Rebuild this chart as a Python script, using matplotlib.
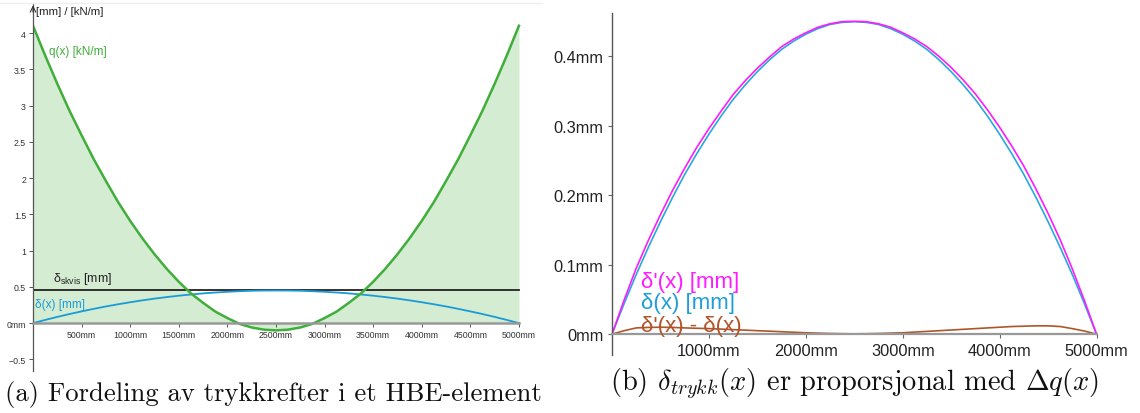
import numpy as np
import matplotlib
matplotlib.use("Agg")
import matplotlib.pyplot as plt
from matplotlib.lines import Line2D

plt.rcParams['font.family'] = ['Liberation Sans', 'DejaVu Sans']
plt.rcParams['mathtext.fontset'] = 'cm'

# --- data ---
# positions along the element [mm]
x_pos = [0, 125, 250, 375, 500, 625, 750, 875, 1000, 1125, 1250, 1375, 1500, 1625, 1750, 1875,
         2000, 2125, 2250, 2375, 2500, 2625, 2750, 2875, 3000, 3125, 3250, 3375, 3500, 3625,
         3750, 3875, 4000, 4125, 4250, 4375, 4500, 4625, 4750, 4875, 5000]
# left panel
q_vals = [4.10, 3.69, 3.30, 2.93, 2.59, 2.26, 1.96, 1.67, 1.41, 1.17, 0.95, 0.75, 0.57, 0.41,
          0.28, 0.16, 0.07, -0.01, -0.06, -0.09, -0.10, -0.09, -0.06, -0.01, 0.07, 0.16, 0.28,
          0.41, 0.57, 0.75, 0.95, 1.17, 1.41, 1.67, 1.96, 2.26, 2.59, 2.93, 3.30, 3.69, 4.10]
delta = [0, 0.044, 0.086, 0.125, 0.162, 0.197, 0.230, 0.260, 0.288, 0.314, 0.338, 0.359, 0.378,
         0.395, 0.410, 0.422, 0.432, 0.440, 0.446, 0.449, 0.450, 0.449, 0.446, 0.440, 0.432,
         0.422, 0.410, 0.395, 0.378, 0.359, 0.338, 0.314, 0.288, 0.260, 0.230, 0.197, 0.162,
         0.125, 0.086, 0.044, 0]
delta_skvis = 0.45

# right panel
delta_prime = [0, 0.049, 0.095, 0.135, 0.172, 0.207, 0.239, 0.269, 0.296, 0.321, 0.345, 0.365,
               0.383, 0.399, 0.414, 0.425, 0.434, 0.442, 0.447, 0.450, 0.4505, 0.450, 0.447,
               0.442, 0.434, 0.425, 0.414, 0.400, 0.384, 0.366, 0.346, 0.323, 0.298, 0.271,
               0.242, 0.209, 0.174, 0.136, 0.094, 0.0485, 0]
delta_diff = [0, 0.005, 0.009, 0.0097, 0.010, 0.0097, 0.009, 0.0085, 0.008, 0.0073, 0.0065,
              0.0058, 0.005, 0.0043, 0.0035, 0.0028, 0.002, 0.0015, 0.001, 0.0007, 0.0005,
              0.0007, 0.001, 0.0015, 0.002, 0.003, 0.004, 0.005, 0.006, 0.007, 0.008, 0.009,
              0.010, 0.011, 0.0115, 0.012, 0.012, 0.011, 0.008, 0.0045, 0]

left_yticks = [-0.5, 0, 0.5, 1, 1.5, 2, 2.5, 3, 3.5, 4]
left_ylabels = ['\u22120.5', '0mm', '0.5', '1', '1.5', '2', '2.5', '3', '3.5', '4']
left_xticks = [500, 1000, 1500, 2000, 2500, 3000, 3500, 4000, 4500, 5000]
right_yticks = [0, 0.1, 0.2, 0.3, 0.4]
right_xticks = [1000, 2000, 3000, 4000, 5000]

green = '#3fae3a'
blue = '#1a9bd7'
magenta = '#ff1aff'
brown = '#b0552a'

fig = plt.figure(figsize=(11.4, 4.14), dpi=100)

# thin frame line of the screenshot
fig.add_artist(Line2D([0, 542 / 1140], [1 - 4 / 414, 1 - 4 / 414], color='#eeeeee', lw=1))

# ---------- (a) ----------
ax1 = fig.add_axes([33 / 1140, 42 / 414, 502 / 1140, 367 / 414])
ax1.set_xlim(0, 5165)
ax1.set_ylim(-0.66, 4.40)
ax1.fill_between(x_pos, q_vals, 0, color='#d4ecd2', lw=0)
ax1.plot([0, 5000], [delta_skvis, delta_skvis], color='#222222', lw=1.3)
ax1.plot(x_pos, delta, color=blue, lw=1.3)
ax1.plot(x_pos, q_vals, color=green, lw=1.8)

for s in ['top', 'right']:
    ax1.spines[s].set_visible(False)
ax1.spines['left'].set_position(('data', 0))
ax1.spines['left'].set_color('#555555')
ax1.spines['left'].set_linewidth(0.9)
ax1.spines['bottom'].set_position(('data', 0))
ax1.spines['bottom'].set_bounds(0, 5000)
ax1.spines['bottom'].set_color('#999999')
ax1.spines['bottom'].set_linewidth(1.8)
ax1.set_yticks(left_yticks)
ax1.set_yticklabels(left_ylabels)
ax1.set_xticks(left_xticks)
ax1.set_xticklabels([f'{v}mm' for v in left_xticks])
ax1.tick_params(axis='both', labelsize=6.3, colors='#555555', labelcolor='#333333',
                length=3, width=0.7, pad=2)
ax1.annotate('', xy=(0, 4.42), xytext=(0, 4.25), annotation_clip=False,
             arrowprops=dict(arrowstyle='->', lw=0.8, color='#333333'))

ax1.text(31, 4.30, '[mm] / [kN/m]', fontsize=8.2, color='#222222', va='center')
ax1.text(165, 3.75, 'q(x) [kN/m]', fontsize=8.5, color=green, va='center')
ax1.text(206, 0.58, r'$\mathregular{\delta_{skvis}}$ [mm]', fontsize=9, color='#222222',
         va='baseline')
ax1.text(20, 0.26, '\u03b4(x) [mm]', fontsize=8.5, color=blue, va='center')

# ---------- (b) ----------
ax2 = fig.add_axes([612 / 1140, 58 / 414, 488 / 1140, 342 / 414])
ax2.set_xlim(0, 5036)
ax2.set_ylim(-0.030, 0.4625)
ax2.plot(x_pos, delta, color='#29a8e0', lw=1.2)
ax2.plot(x_pos, delta_prime, color=magenta, lw=1.2)
ax2.plot(x_pos, delta_diff, color=brown, lw=1.2)

for s in ['top', 'right']:
    ax2.spines[s].set_visible(False)
ax2.spines['left'].set_position(('data', 0))
ax2.spines['left'].set_color('#555555')
ax2.spines['left'].set_linewidth(1.0)
ax2.spines['bottom'].set_position(('data', 0))
ax2.spines['bottom'].set_bounds(0, 5000)
ax2.spines['bottom'].set_color('#999999')
ax2.spines['bottom'].set_linewidth(1.6)
ax2.set_yticks(right_yticks)
ax2.set_yticklabels(['0mm', '0.1mm', '0.2mm', '0.3mm', '0.4mm'])
ax2.set_xticks(right_xticks)
ax2.set_xticklabels([f'{v}mm' for v in right_xticks])
ax2.tick_params(axis='both', labelsize=11.8, colors='#666666', labelcolor='#222222',
                length=3, width=0.8, pad=3)

ax2.text(300, 0.0756, "\u03b4'(x) [mm]", fontsize=16, color=magenta, va='center')
ax2.text(300, 0.045, '\u03b4(x) [mm]', fontsize=16, color='#1e9fd8', va='center')
ax2.text(300, 0.013, "\u03b4'(x) - \u03b4(x)", fontsize=16, color=brown, va='center')

# ---------- captions ----------
fig.text(273 / 1140, 1 - 395 / 414, '(a) Fordeling av trykkrefter i et HBE-element',
         family='cmr10', fontsize=19.2, ha='center', va='center', color='#111111')
fig.text(855 / 1140, 1 - 384 / 414, r'(b) $\delta_{trykk}(x)$ er proporsjonal med $\Delta q(x)$',
         family='cmr10', fontsize=20.5, ha='center', va='center', color='#111111')

fig.savefig('out.png', dpi=100)
